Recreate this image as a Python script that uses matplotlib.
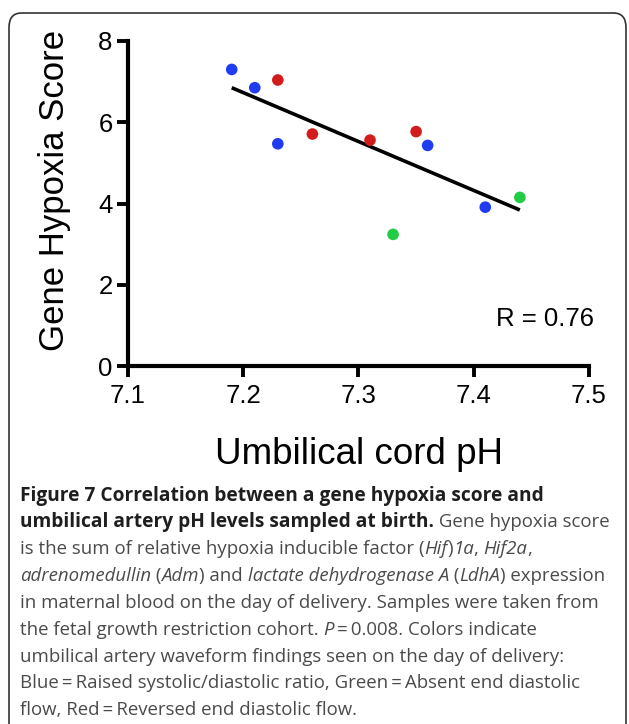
import matplotlib
matplotlib.use("Agg")
import matplotlib.pyplot as plt
from matplotlib.patches import FancyBboxPatch
import numpy as np

# ---- data ----
ph_blue = [7.19, 7.21, 7.23, 7.36, 7.41]
score_blue = [7.30, 6.85, 5.47, 5.43, 3.91]
ph_red = [7.23, 7.26, 7.31, 7.35]
score_red = [7.04, 5.71, 5.56, 5.77]
ph_green = [7.33, 7.44]
score_green = [3.24, 4.15]
fit_x = [7.19, 7.44]
fit_y = [6.85, 3.84]
x_ticks = [7.1, 7.2, 7.3, 7.4, 7.5]
y_ticks = [0, 2, 4, 6, 8]

W, H = 629, 724
fig = plt.figure(figsize=(W / 100, H / 100), dpi=100)
fig.patch.set_facecolor("white")

# rounded frame
frame = FancyBboxPatch((9 / W, -0.05), (626 - 9) / W, 1 - 13 / H + 0.05,
                       boxstyle="round,pad=0,rounding_size=0.02",
                       transform=fig.transFigure, fill=False,
                       edgecolor="#333333", linewidth=1.2)
fig.add_artist(frame)

ax = fig.add_axes([128 / W, 1 - 366 / H, (589 - 128) / W, (366 - 41) / H])
ax.set_xlim(7.1, 7.5)
ax.set_ylim(0, 8)
for s in ["top", "right"]:
    ax.spines[s].set_visible(False)
for s in ["left", "bottom"]:
    ax.spines[s].set_linewidth(3)
ax.set_xticks(x_ticks)
ax.set_yticks(y_ticks)
ax.set_xticklabels([f"{v:.1f}" for v in x_ticks])
ax.set_yticklabels([str(v) for v in y_ticks])
ax.tick_params(width=2.8, length=8, labelsize=18.5, pad=3)
ax.tick_params(axis="x", pad=5)
for lab in ax.get_xticklabels() + ax.get_yticklabels():
    lab.set_fontfamily("Liberation Sans")

ax.plot(fit_x, fit_y, color="black", linewidth=2.6, solid_capstyle="butt", zorder=2)
ms = 70
ax.scatter(ph_blue, score_blue, s=ms, color="#1f3cf0", edgecolors="none", zorder=3, clip_on=False)
ax.scatter(ph_red, score_red, s=ms, color="#d21c1c", edgecolors="none", zorder=3, clip_on=False)
ax.scatter(ph_green, score_green, s=ms, color="#22cc44", edgecolors="none", zorder=3, clip_on=False)

ax.text(1.011, 0.145, "R = 0.76", transform=ax.transAxes, ha="right", va="center",
        fontsize=18.5, family="Liberation Sans")

fig.text(359 / W, 1 - 455 / H, "Umbilical cord pH", ha="center", va="center",
         fontsize=26.5, family="Liberation Sans")
fig.text(55 / W, 1 - 190 / H, "Gene Hypoxia Score", ha="center", va="center",
         rotation=90, fontsize=25, family="Liberation Sans")

# ---- caption ----
eq = "\u2009=\u2009"
caption = [
    [("Figure 7 Correlation between a gene hypoxia score and", "b")],
    [("umbilical artery pH levels sampled at birth.", "b"), (" Gene hypoxia score", "n")],
    [("is the sum of relative hypoxia inducible factor (", "n"), ("Hif", "i"), (")", "n"),
     ("1a", "i"), (", ", "n"), ("Hif2a", "i"), (",", "n")],
    [("adrenomedullin", "i"), (" (", "n"), ("Adm", "i"), (") and ", "n"),
     ("lactate dehydrogenase A", "i"), (" (", "n"), ("LdhA", "i"), (") expression", "n")],
    [("in maternal blood on the day of delivery. Samples were taken from", "n")],
    [("the fetal growth restriction cohort. ", "n"), ("P", "i"), (eq + "0.008. Colors indicate", "n")],
    [("umbilical artery waveform findings seen on the day of delivery:", "n")],
    [("Blue" + eq + "Raised systolic/diastolic ratio, Green" + eq + "Absent end diastolic", "n")],
    [("flow, Red" + eq + "Reversed end diastolic flow.", "n")],
]
cap_font = ["Open Sans", "DejaVu Sans"]
cap_size = 13.45
bold_size = 13.8
x0 = 20
y_first = 495.5
dy = 26.85
renderer = fig.canvas.get_renderer()
for i, segs in enumerate(caption):
    x = x0
    y = y_first + i * dy
    for txt, st in segs:
        kw = dict(fontsize=cap_size, family=cap_font, ha="left", va="center",
                  color="#4a4a4a")
        if st == "b":
            kw["fontweight"] = "bold"
            kw["fontsize"] = bold_size
            kw["color"] = "#1e1e1e"
        elif st == "i":
            kw["fontstyle"] = "italic"
        t = fig.text(x / W, 1 - y / H, txt, **kw)
        bb = t.get_window_extent(renderer)
        x += bb.width

fig.savefig("out.png", dpi=100)
